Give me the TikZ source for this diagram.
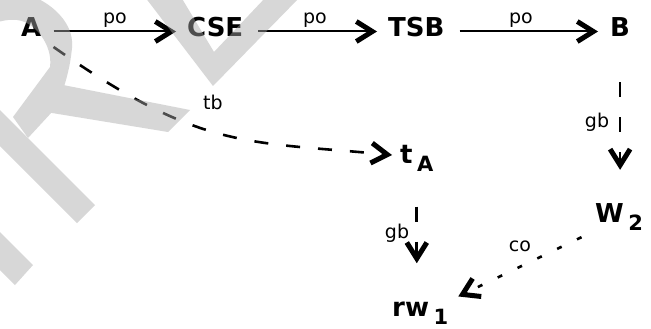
\documentclass[tikz,border=0pt]{standalone}
\usepackage{fontspec}
\setmainfont{DejaVu Sans}
\usetikzlibrary{arrows.meta}
\definecolor{wm}{gray}{0.66}
\newcommand\mysub[1]{\hspace{4.5pt}\raisebox{-8.5pt}{\fontsize{21}{21}\selectfont\bfseries #1}}
\begin{document}
\begin{tikzpicture}[x=1pt,y=-1pt,
  nd/.style={inner sep=0pt, anchor=base west, font=\fontsize{26}{26}\selectfont\bfseries},
  lbl/.style={inner sep=0pt, anchor=base, font=\fontsize{19}{19}\selectfont},
  tip/.style={-{Straight Barb[length=16pt,width=20pt,line width=5pt]}},
  solidarr/.style={tip, line width=2pt},
  dasharr/.style={tip, line width=2.6pt, dash pattern=on 14pt off 18pt},
  dotarr/.style={tip, line width=2.6pt, dash pattern=on 5pt off 17pt}]
\useasboundingbox (0,0) rectangle (651,329);
\fill[white] (0,0) rectangle (651,329);

% nodes
\node[nd] (A)   at (21,37)   {A};
\node[nd] (CSE) at (187,37)  {CSE};
\node[nd] (TSB) at (388,37)  {TSB};
\node[nd] (B)   at (610,37)  {B};
\node[nd] (tA)  at (400,163) {t\mysub{A}};
\node[nd] (W2)  at (595,222) {W\mysub{2}};
\node[nd] (rw1) at (392,316) {rw\mysub{1}};

% labels
\node[lbl] (po1) at (115,23.5) {po};
\node[lbl] (po2) at (315,23.5) {po};
\node[lbl] (po3) at (521,23.5) {po};
\node[lbl] (tb)  at (213,110)  {tb};
\node[lbl] (gb1) at (597,127)  {gb};
\node[lbl] (gb2) at (397,238)  {gb};
\node[lbl] (co)  at (520,251)  {co};

% connectors
\draw[solidarr, shorten <=12pt, shorten >=11pt] ([yshift=5.5pt]A.base east) -- ([yshift=5.5pt]CSE.base west);
\draw[solidarr, shorten <=15pt, shorten >=11pt] ([yshift=5.5pt]CSE.base east) -- ([yshift=5.5pt]TSB.base west);
\draw[solidarr, shorten <=15pt, shorten >=12pt] ([yshift=5.5pt]TSB.base east) -- ([yshift=5.5pt]B.base west);
\draw[dasharr] ([shift={(12pt,-10pt)}]A.base east) .. controls (201,150) and (243,141) .. ([shift={(-8pt,8pt)}]tA.base west);
\draw[dasharr, dash pattern=on 15pt off 20pt, shorten <=45pt, shorten >=33pt] (B.south) -- (B.south |- W2.north);
\draw[dasharr, dash pattern=on 15pt off 20pt, shorten <=35pt, shorten >=38pt] (tA.south) -- (tA.south |- rw1.north);
\draw[dotarr, shorten <=15pt, shorten >=11pt] (W2.south west) -- (rw1.north east);

% watermark
\begin{scope}[transparency group, opacity=0.46]
\fill[wm] (95,205) -- (77,223) -- (-80,66) -- (-62,48) -- cycle;
\fill[wm] (33,265) -- (15,285) -- (-30,240) -- (-12,220) -- cycle;
\fill[wm] (58,84) -- (190,110) -- (168,132) -- (46,112) -- cycle;
\fill[wm] (-10,24) -- (-10,-10) -- (10,-10) .. controls (45,-5) and (75,20) .. (72,48)
   .. controls (70,68) and (66,80) .. (63,90) -- (52,112) -- (28,138) -- (13,117) -- (50,67)
   .. controls (53,45) and (35,22) .. (17,20) .. controls (8,19) and (2,21) .. (-10,24) -- cycle;
\fill[wm] (145,-3) -- (181,-3) -- (214,52) -- (266,-3) -- (300,-3) -- (213,86) -- cycle;
\end{scope}
\end{tikzpicture}
\end{document}
